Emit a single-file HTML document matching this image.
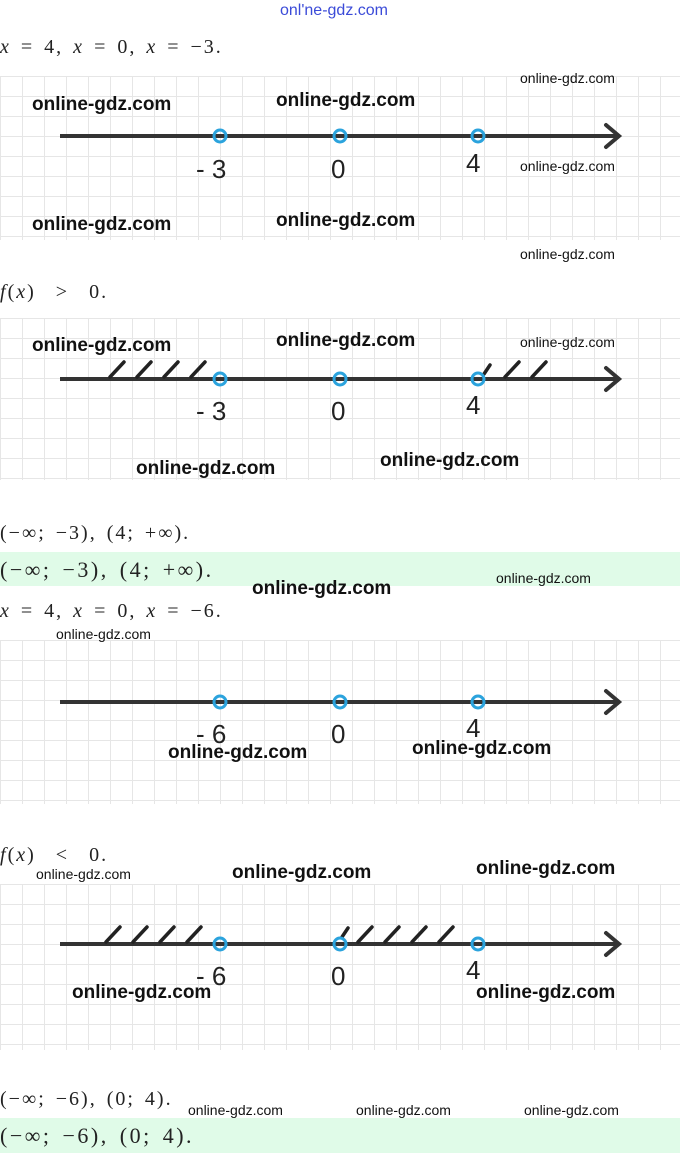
<!DOCTYPE html>
<html><head><meta charset="utf-8"><style>
body{margin:0;width:680px;height:1153px;position:relative;background:#fff;overflow:hidden;font-family:"Liberation Sans",sans-serif}
.a{position:absolute;white-space:nowrap}
.m{font-family:"Liberation Serif",serif;font-size:20px;color:#222;letter-spacing:2px;word-spacing:3px}
.panel{position:absolute;left:0;width:680px;background-color:#fff;background-image:linear-gradient(#e6e6e6 1px,transparent 1px),linear-gradient(90deg,#e6e6e6 1px,transparent 1px);background-size:22px 20px}
.w{font-size:19px;font-weight:bold;color:#111}
.ws{font-size:14px;color:#111}
.g{position:absolute;left:0;width:680px;background:#e0fbe8}
svg{position:absolute;left:0}
</style></head><body>
<div class="a" style="left:280px;top:2px;font-size:16px;color:#3b4bd8">onl'ne-gdz.com</div>
<div class="a m" style="left:0;top:36px"><i>x</i> = 4, <i>x</i> = 0, <i>x</i> = −3.</div>

<div class="panel" style="top:76px;height:164px"></div>
<div class="panel" style="top:318px;height:162px"></div>
<div class="panel" style="top:640px;height:164px"></div>
<div class="panel" style="top:884px;height:166px"></div>

<svg width="680" height="1153" style="top:0">
<defs><g id="ax"><line x1="60" y1="0" x2="618" y2="0" stroke="#333" stroke-width="4"/><polyline points="606,-11 619,0 606,11" fill="none" stroke="#333" stroke-width="4" stroke-linecap="round"/></g></defs>
<g transform="translate(0,136)"><use href="#ax"/></g>
<g transform="translate(0,379)"><use href="#ax"/></g>
<g transform="translate(0,702)"><use href="#ax"/></g>
<g transform="translate(0,944)"><use href="#ax"/></g>
<g stroke="#222" stroke-width="3.5" stroke-linecap="round">
<path d="M110,377l14,-15M137,377l14,-15M164,377l14,-15M191,377l14,-15M484,374l6,-9M505,377l14,-15M532,377l14,-15"/>
<path d="M106,942l14,-15M133,942l14,-15M160,942l14,-15M187,942l14,-15M342,937l6,-9M358,942l14,-15M385,942l14,-15M412,942l14,-15M439,942l14,-15"/>
</g>
<g fill="none" stroke="#2ba3dd" stroke-width="3">
<circle cx="220" cy="136" r="6"/><circle cx="340" cy="136" r="6"/><circle cx="478" cy="136" r="6"/>
<circle cx="220" cy="379" r="6"/><circle cx="340" cy="379" r="6"/><circle cx="478" cy="379" r="6"/>
<circle cx="220" cy="702" r="6"/><circle cx="340" cy="702" r="6"/><circle cx="478" cy="702" r="6"/>
<circle cx="220" cy="944" r="6"/><circle cx="340" cy="944" r="6"/><circle cx="478" cy="944" r="6"/>
</g>
<g font-family="Liberation Sans,sans-serif" font-size="26" fill="#222">
<text x="196" y="178">- 3</text><text x="331" y="178">0</text><text x="466" y="172">4</text>
<text x="196" y="420">- 3</text><text x="331" y="420">0</text><text x="466" y="414">4</text>
<text x="196" y="743">- 6</text><text x="331" y="743">0</text><text x="466" y="737">4</text>
<text x="196" y="985">- 6</text><text x="331" y="985">0</text><text x="466" y="979">4</text>
</g>
</svg>

<div class="a m" style="left:0;top:281px"><i>f</i>(<i>x</i>) &nbsp;&gt; &nbsp;0.</div>
<div class="a m" style="left:0;top:522px">(−∞; −3), (4; +∞).</div>
<div class="g" style="top:552px;height:34px"></div>
<div class="a m" style="left:0;top:557px;font-size:22px;letter-spacing:2.5px">(−∞; −3), (4; +∞).</div>
<div class="a m" style="left:0;top:600px"><i>x</i> = 4, <i>x</i> = 0, <i>x</i> = −6.</div>
<div class="a m" style="left:0;top:844px"><i>f</i>(<i>x</i>) &nbsp;&lt; &nbsp;0.</div>
<div class="a m" style="left:0;top:1088px">(−∞; −6), (0; 4).</div>
<div class="g" style="top:1118px;height:35px"></div>
<div class="a m" style="left:0;top:1123px;font-size:22px;letter-spacing:2.5px">(−∞; −6), (0; 4).</div>

<div class="a w" style="left:32px;top:94px">online-gdz.com</div>
<div class="a w" style="left:276px;top:90px">online-gdz.com</div>
<div class="a ws" style="left:520px;top:70px">online-gdz.com</div>
<div class="a ws" style="left:520px;top:158px">online-gdz.com</div>
<div class="a w" style="left:32px;top:214px">online-gdz.com</div>
<div class="a w" style="left:276px;top:210px">online-gdz.com</div>
<div class="a ws" style="left:520px;top:246px">online-gdz.com</div>
<div class="a w" style="left:32px;top:335px">online-gdz.com</div>
<div class="a w" style="left:276px;top:330px">online-gdz.com</div>
<div class="a ws" style="left:520px;top:334px">online-gdz.com</div>
<div class="a w" style="left:136px;top:458px">online-gdz.com</div>
<div class="a w" style="left:380px;top:450px">online-gdz.com</div>
<div class="a w" style="left:252px;top:578px">online-gdz.com</div>
<div class="a ws" style="left:496px;top:570px">online-gdz.com</div>
<div class="a ws" style="left:56px;top:626px">online-gdz.com</div>
<div class="a w" style="left:168px;top:742px">online-gdz.com</div>
<div class="a w" style="left:412px;top:738px">online-gdz.com</div>
<div class="a ws" style="left:36px;top:866px">online-gdz.com</div>
<div class="a w" style="left:232px;top:862px">online-gdz.com</div>
<div class="a w" style="left:476px;top:858px">online-gdz.com</div>
<div class="a w" style="left:72px;top:982px">online-gdz.com</div>
<div class="a w" style="left:476px;top:982px">online-gdz.com</div>
<div class="a ws" style="left:188px;top:1102px">online-gdz.com</div>
<div class="a ws" style="left:356px;top:1102px">online-gdz.com</div>
<div class="a ws" style="left:524px;top:1102px">online-gdz.com</div>
</body></html>
